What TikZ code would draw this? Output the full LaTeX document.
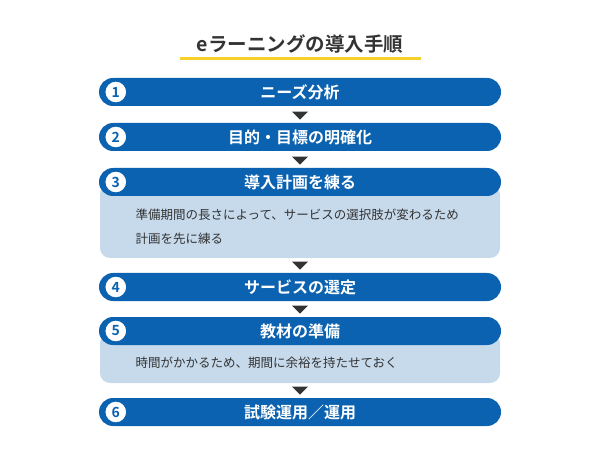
\documentclass[tikz,border=0pt]{standalone}
\usepackage{fontspec}
\setmainfont{Noto Sans CJK JP}
\newfontfamily\jpbold{Noto Sans CJK JP Bold}
\usetikzlibrary{shapes.misc,shapes.geometric}
\definecolor{stepblue}{HTML}{0B62B0}
\definecolor{notefill}{HTML}{C7DAEC}
\definecolor{textgray}{HTML}{333333}
\definecolor{lineyellow}{HTML}{F7D02A}
\begin{document}
\begin{tikzpicture}
		[x=1pt, y=-1pt,
		stepbar/.style={rounded rectangle, fill=stepblue, minimum width=402pt, minimum height=28pt, inner sep=0pt, text=white, font=\jpbold\fontsize{16}{19}\selectfont},
		numcirc/.style={circle, fill=white, draw=stepblue, line width=1.2pt, minimum size=22pt, inner sep=0pt, text=stepblue, font=\jpbold\fontsize{14}{16}\selectfont},
		notebox/.style={fill=notefill, rounded corners=10pt},
		notetext/.style={anchor=west, text=textgray, font=\fontsize{12.5}{15}\selectfont},
		downtri/.style={isosceles triangle, shape border rotate=270, isosceles triangle apex angle=90, fill=textgray, minimum width=15pt, minimum height=8pt, inner sep=0pt}]
		\useasboundingbox (0,0) rectangle (600,473);
		% title
		\node[font=\jpbold\fontsize{19.5}{23}\selectfont, text=textgray] (title) at (300,44) {eラーニングの導入手順};
		\draw[lineyellow, line width=3pt] (180,59) -- (421,59);
		% note boxes behind the bars
		\fill[notebox] (100,184) rectangle (500,258);
		\fill[notebox] (100,333) rectangle (500,383);
		% bars
		\node[stepbar] (s1) at (300,92) {ニーズ分析};
		\node[stepbar] (s2) at (300,137) {目的・目標の明確化};
		\node[stepbar] (s3) at (300,182) {導入計画を練る};
		\node[stepbar] (s4) at (300,287) {サービスの選定};
		\node[stepbar] (s5) at (300,331) {教材の準備};
		\node[stepbar] (s6) at (300,412) {試験運用／運用};
		\foreach \i in {1,...,6}
			\node[numcirc] (n\i) at ([xshift=17pt]s\i.west) {\i};
		% notes
		\node[notetext] (t3a) at (132,215) {準備期間の長さによって、サービスの選択肢が変わるため};
		\node[notetext] (t3b) at (132,239) {計画を先に練る};
		\node[notetext] (t5) at (132,363) {時間がかかるため、期間に余裕を持たせておく};
		% arrows
		\node[downtri] (a1) at (300,115) {};
		\node[downtri] (a2) at (300,160) {};
		\node[downtri] (a3) at (300,265) {};
		\node[downtri] (a4) at (300,309) {};
		\node[downtri] (a5) at (300,390) {};
\end{tikzpicture}
\end{document}
